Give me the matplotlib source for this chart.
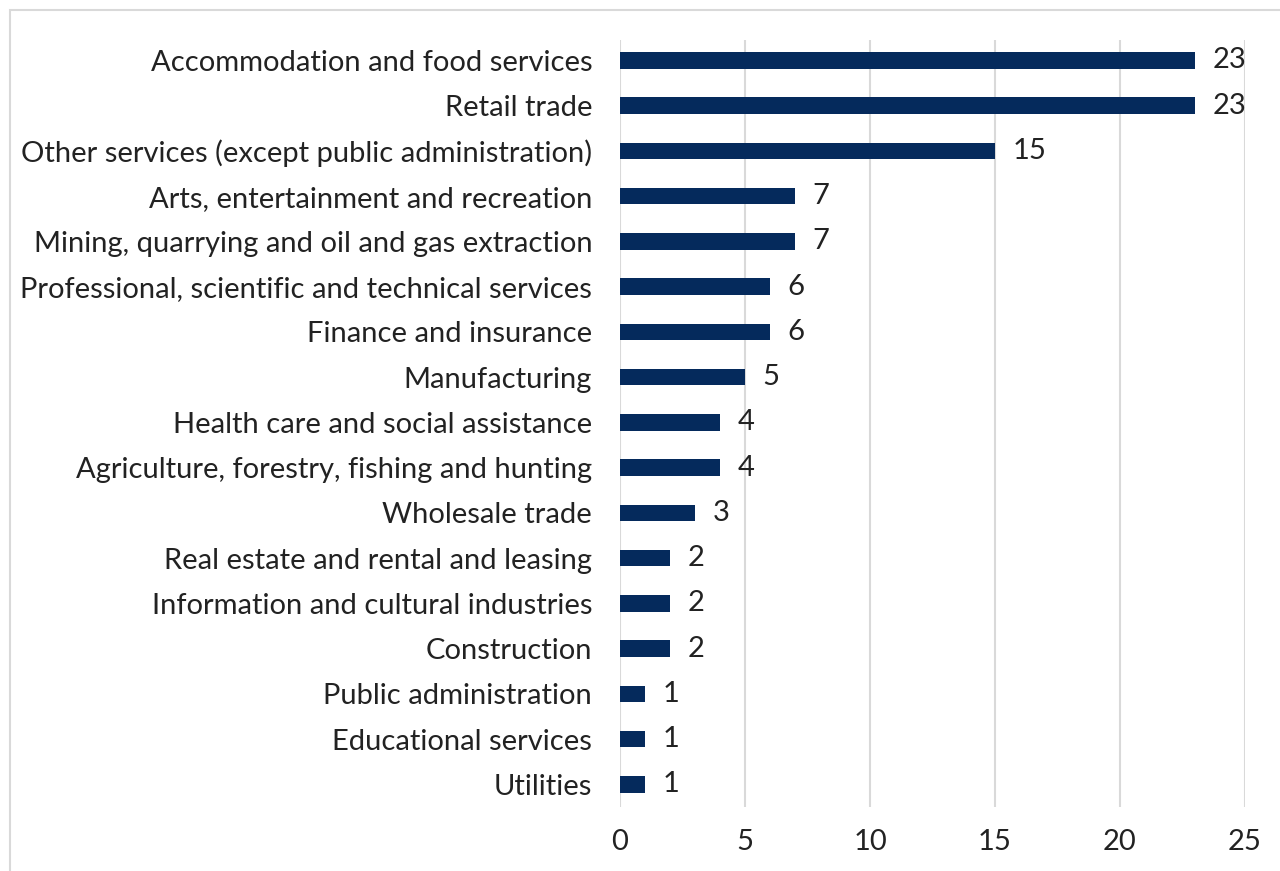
import matplotlib.pyplot as plt
from matplotlib.patches import Rectangle

industries = [
    "Accommodation and food services",
    "Retail trade",
    "Other services (except public administration)",
    "Arts, entertainment and recreation",
    "Mining, quarrying and oil and gas extraction",
    "Professional, scientific and technical services",
    "Finance and insurance",
    "Manufacturing",
    "Health care and social assistance",
    "Agriculture, forestry, fishing and hunting",
    "Wholesale trade",
    "Real estate and rental and leasing",
    "Information and cultural industries",
    "Construction",
    "Public administration",
    "Educational services",
    "Utilities",
]
counts = [23, 23, 15, 7, 7, 6, 6, 5, 4, 4, 3, 2, 2, 2, 1, 1, 1]
x_ticks = [0, 5, 10, 15, 20, 25]

plt.rcParams['font.family'] = ['Lato', 'DejaVu Sans']
FS = 21
TXT = '#222222'

W, H = 1280, 871
fig = plt.figure(figsize=(W / 100, H / 100), dpi=100)

# light frame around the chart area
fig.patches.append(Rectangle((10 / W, -0.1), 1.2, 1 - 10 / H + 0.1,
                             transform=fig.transFigure, fill=False,
                             edgecolor='#d9d9d9', linewidth=1.5))

ax = fig.add_axes([620 / W, 1 - 807 / H, 625 / W, 767 / H])

pos = list(range(len(industries)))
ax.barh(pos, counts, height=0.36, color='#052a5c', zorder=3)
for p, v in zip(pos, counts):
    ax.text(v + 0.7, p, str(v), va='center', ha='left', fontsize=FS,
            color=TXT)

ax.set_yticks(pos)
ax.set_yticklabels(industries, fontsize=FS, color=TXT)
ax.set_ylim(len(industries) - 0.5, -0.45)
ax.set_xlim(0, 25)
ax.set_xticks(x_ticks)
ax.set_xticklabels([str(t) for t in x_ticks], fontsize=FS, color=TXT)
ax.tick_params(axis='both', length=0)
ax.tick_params(axis='y', pad=20)
ax.tick_params(axis='x', pad=16)
ax.grid(axis='x', color='#d9d9d9', linewidth=1.5, zorder=0)
for s in ax.spines.values():
    s.set_visible(False)

fig.savefig('out.png', dpi=100)
